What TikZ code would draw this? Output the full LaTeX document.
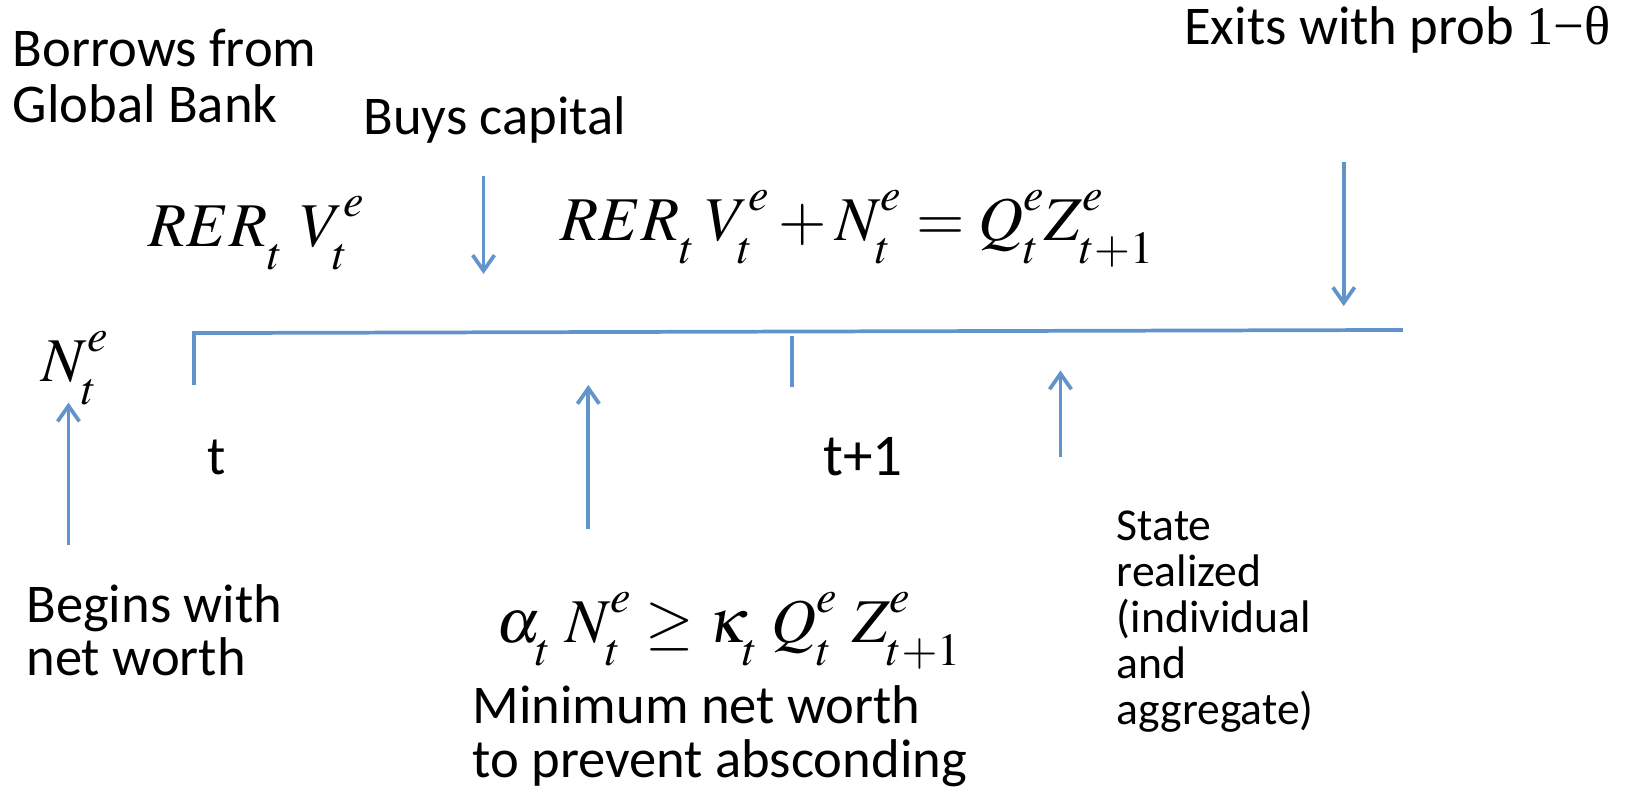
\documentclass[tikz,border=0pt]{standalone}
\usepackage{mathptmx}
\usepackage[no-math]{fontspec}
\setmainfont{Carlito}
\newfontfamily\lserif{Liberation Serif}
\usetikzlibrary{arrows.meta}
\definecolor{tlblue}{RGB}{98,148,204}
\newcommand{\mtdims}{\fontdimen16\textfont2=11pt \fontdimen17\textfont2=11pt \fontdimen13\textfont2=14.5pt \fontdimen14\textfont2=14.5pt \fontdimen15\textfont2=14.5pt }
\begin{document}
\begin{tikzpicture}[x=0.5pt,y=-0.5pt,
  lbl/.style={inner sep=0pt, anchor=base west, align=left, font=\fontsize{26.3}{26.5}\selectfont},
  small/.style={inner sep=0pt, anchor=base west, align=left, font=\fontsize{22}{22.1}\selectfont},
  eq/.style={inner sep=0pt, anchor=base west, font=\fontsize{30}{36}\selectfont},
  tl/.style={draw=tlblue, line width=1.8pt},
  arr/.style={tl, -{Straight Barb[length=7.5pt,width=10.5pt]}},
]
\useasboundingbox (0,0) rectangle (1568,760);

\node[lbl, font=\fontsize{26.3}{27}\selectfont] (borrow) at (12,118) {Borrows from\\Global Bank};
\node[lbl] (buys) at (350,130) {Buys capital};
\node[lbl] (exits) at (1141,43) {Exits with prob {\lserif 1−θ}};
\node[eq] (eqv) at (143,238) {$\mtdims RER_t\mkern5mu V_t^e$};
\node[eq] (eqbud) at (540,232) {$\mtdims RER_t\mkern3mu V_t^e + N_t^e = Q_t^e Z_{t+1}^e$};
\node[eq] (nw) at (40,368) {$\mtdims N_t^e$};
\node[lbl] (t) at (200,457) {t};
\node[lbl, font=\fontsize{28.5}{30}\selectfont] (t1) at (793,458) {t+1};
\node[small] (state) at (1076,698) {State\\realized\\(individual\\and\\aggregate)};
\node[lbl, font=\fontsize{26.3}{25.5}\selectfont] (begins) at (25,651) {Begins with\\net worth};
\node[eq] (eqcon) at (478,619) {$\mtdims \alpha_t\mkern4mu N_t^e \geq \kappa_t\mkern4mu Q_t^e\mkern4mu Z_{t+1}^e$};
\node[lbl, font=\fontsize{26.3}{26}\selectfont] (minnw) at (455,749) {Minimum net worth\\to prevent absconding};

\coordinate (tstart) at (187,371);
\coordinate (tcorner) at (187,321);
\coordinate (tend) at (1352,318);
\coordinate (mtop) at (763,324);
\coordinate (mbot) at (763,373);
\draw[tl] (tstart) -- (tcorner) -- (tend);
\draw[tl] (mtop) -- (mbot);

\coordinate (a1s) at (466,170); \coordinate (a1e) at (466,264);
\coordinate (a2s) at (1295,156); \coordinate (a2e) at (1295,295);
\coordinate (a3s) at (66,525); \coordinate (a3e) at (66,388);
\coordinate (a4s) at (567,510); \coordinate (a4e) at (567,371);
\coordinate (a5s) at (1022,440); \coordinate (a5e) at (1022,357);
\draw[arr] (a1s) -- (a1e);
\draw[arr] (a2s) -- (a2e);
\draw[arr] (a3s) -- (a3e);
\draw[arr] (a4s) -- (a4e);
\draw[arr] (a5s) -- (a5e);
\end{tikzpicture}
\end{document}
